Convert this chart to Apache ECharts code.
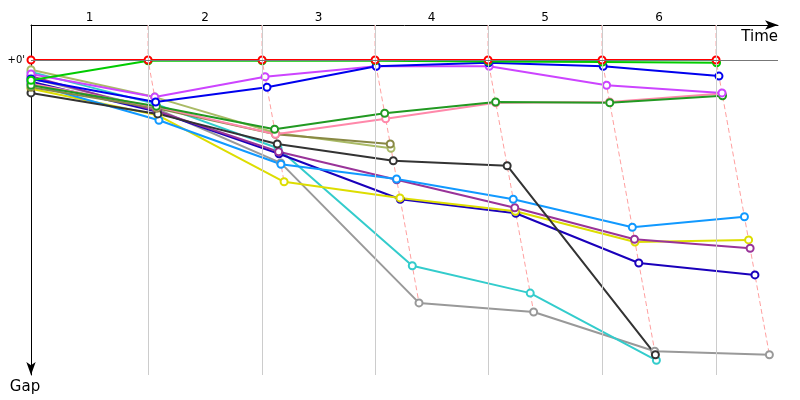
<!DOCTYPE html>
<html><head><meta charset="utf-8">
<script src="https://cdn.jsdelivr.net/npm/echarts@6/dist/echarts.min.js"></script>
<style>html,body{margin:0;padding:0;background:#fff}#c{width:800px;height:400px}</style>
</head><body><div id="c"></div>
<script>
// Lap labels and leader lap times (seconds)
const lapLabels = ['1', '2', '3', '4', '5', '6'];
const leaderLapTimes = [92.4, 90.0, 89.2, 89.2, 90.0, 90.0];
const timeAxisMax = 589.7;
const gapMin = -5, gapMax = 45;

// Gap to leader (seconds) at start (index 0) and after each lap
const gapRed        = [0, 0, 0, 0, 0, 0, 0];
const gapGreen      = [2.9, 0.1, 0.1, 0.1, 0.2, 0.3, 0.4];
const gapBlue       = [2.7, 6.0, 3.9, 0.9, 0.4, 0.9, 2.3];
const gapMagenta    = [2.0, 5.3, 2.4, 0.9, 0.9, 3.6, 4.7];
const gapDarkGreen  = [3.6, 6.6, 9.9, 7.6, 6.0, 6.1, 5.1];
const gapPink       = [3.4, 6.7, 10.6, 8.4, 6.1, 6.0, 4.8];
const gapOlive      = [3.9, 6.9, 10.6, 12.0];
const gapLightOlive = [1.4, 5.3, 10.4, 12.6];
const gapBlack      = [4.7, 7.7, 12.0, 14.4, 15.1, 42.1];
const gapLightBlue  = [3.4, 8.6, 14.9, 17.0, 19.9, 23.9, 22.4];
const gapPurple     = [2.3, 7.3, 13.1, 17.1, 21.1, 25.6, 26.9];
const gapYellow     = [4.1, 7.9, 17.4, 19.7, 21.6, 26.0, 25.7];
const gapDarkBlue   = [3.1, 7.4, 13.4, 19.9, 21.9, 29.0, 30.7];
const gapCyan       = [1.7, 6.3, 12.6, 29.4, 33.3, 42.9];
const gapGray       = [2.6, 7.0, 14.7, 34.7, 36.0, 41.6, 42.1];

const drivers = [
  {gaps: gapGray, color: '#999999'},
  {gaps: gapCyan, color: '#33cccc'},
  {gaps: gapDarkBlue, color: '#1a00bb'},
  {gaps: gapYellow, color: '#dddd00'},
  {gaps: gapPurple, color: '#993399'},
  {gaps: gapLightBlue, color: '#1199ff'},
  {gaps: gapBlack, color: '#333333'},
  {gaps: gapLightOlive, color: '#aabb66'},
  {gaps: gapOlive, color: '#888844'},
  {gaps: gapPink, color: '#ff88aa'},
  {gaps: gapDarkGreen, color: '#229922'},
  {gaps: gapMagenta, color: '#cc44ff'},
  {gaps: gapBlue, color: '#0000ee'},
  {gaps: gapGreen, color: '#00cc00'},
  {gaps: gapRed, color: '#ff0000'}
];

// cumulative leader time at end of each lap
const leaderCum = [0];
leaderLapTimes.forEach((t, i) => leaderCum.push(leaderCum[i] + t));
const lapMids = lapLabels.map((_, i) => (leaderCum[i] + leaderCum[i + 1]) / 2);

const series = [];
// vertical lap grid lines
series.push({
  type: 'line', data: [], silent: true, z: 1,
  markLine: {
    silent: true, symbol: ['none', 'none'], label: {show: false},
    lineStyle: {color: '#cccccc', type: 'solid', width: 1},
    data: leaderCum.slice(1).map(t => ({xAxis: t}))
  }
});
// zero gap reference line
series.push({
  type: 'line', data: [], silent: true, z: 1,
  markLine: {
    silent: true, symbol: ['none', 'none'],
    label: {show: true, position: 'start', formatter: "+0'", color: '#000', fontSize: 10, fontFamily: 'DejaVu Sans', distance: 6},
    lineStyle: {color: '#777777', type: 'solid', width: 1},
    data: [{yAxis: 0}]
  }
});
// dashed pink lap lines linking the drivers' crossing points for each lap
for (let lap = 1; lap < leaderCum.length; lap++) {
  const gs = drivers.filter(d => d.gaps.length > lap).map(d => d.gaps[lap]).sort((a, b) => a - b);
  const pts = [[leaderCum[lap], gapMin], [leaderCum[lap], 0]];
  gs.forEach(g => pts.push([leaderCum[lap] + g, g]));
  series.push({
    type: 'line', data: pts, symbol: 'none', silent: true, z: 2,
    lineStyle: {color: '#ff9f9f', width: 1, type: [5, 3]}
  });
}
// drivers
drivers.forEach(d => {
  series.push({
    type: 'line', z: 3,
    data: d.gaps.map((g, i) => [i === 0 ? 0 : leaderCum[i] + g, g]),
    symbol: 'emptyCircle', symbolSize: 7, showAllSymbol: true,
    lineStyle: {color: d.color, width: 2},
    itemStyle: {color: d.color, borderWidth: 1.3},
    clip: true
  });
});

const chart = echarts.init(document.getElementById('c'), null, {renderer: 'canvas'});
chart.setOption({
  animation: false,
  backgroundColor: '#ffffff',
  textStyle: {fontFamily: 'DejaVu Sans'},
  grid: {left: 31, right: 22, top: 25, bottom: 25, containLabel: false},
  xAxis: {
    type: 'value', position: 'top', min: 0, max: timeAxisMax,
    name: 'Time', nameLocation: 'end', nameGap: 0,
    nameTextStyle: {color: '#000', fontSize: 15, fontFamily: 'DejaVu Sans', align: 'right', verticalAlign: 'top', padding: [5, 0, 0, 0]},
    axisLine: {show: true, onZero: false, lineStyle: {color: '#000', width: 1}, symbol: ['none', 'arrow'], symbolSize: [7, 13]},
    axisTick: {show: false},
    splitLine: {show: false},
    axisLabel: {
      show: true, color: '#000', fontSize: 12, fontFamily: 'DejaVu Sans', margin: 1,
      customValues: lapMids,
      formatter: v => {
        let best = 0;
        lapMids.forEach((m, i) => { if (Math.abs(m - v) < Math.abs(lapMids[best] - v)) best = i; });
        return lapLabels[best];
      }
    }
  },
  yAxis: {
    type: 'value', inverse: true, min: gapMin, max: gapMax,
    name: 'Gap', nameLocation: 'end', nameGap: 5,
    nameTextStyle: {color: '#000', fontSize: 15, fontFamily: 'DejaVu Sans', align: 'center', verticalAlign: 'top', padding: [0, 12, 0, 0]},
    axisLine: {show: true, onZero: false, lineStyle: {color: '#000', width: 1}, symbol: ['arrow', 'none'], symbolSize: [7, 13]},
    axisTick: {show: false},
    axisLabel: {show: false},
    splitLine: {show: false}
  },
  series: series
});
</script>
</body></html>
